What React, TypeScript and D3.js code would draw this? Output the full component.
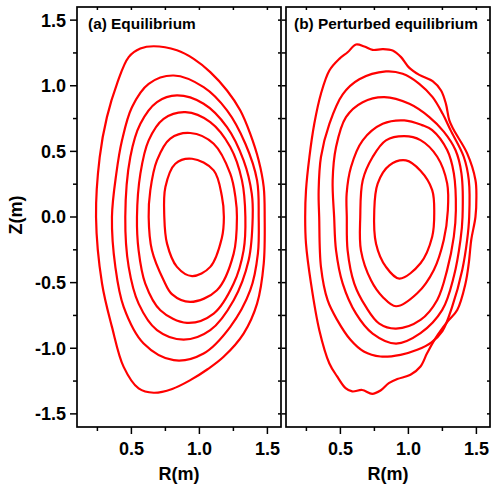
import React from 'react';
import * as d3 from 'd3';

type Pt = [number, number];

const xDomain: [number, number] = [0.1, 1.6];
const yDomain: [number, number] = [-1.6, 1.6];
const xTicksMajor = [0.5, 1.0, 1.5];
const xTicksMinor = [0.25, 0.75, 1.25];
const yTicksMajor = [-1.5, -1.0, -0.5, 0.0, 0.5, 1.0, 1.5];
const yTicksMinor = [-1.25, -0.75, -0.25, 0.25, 0.75, 1.25];
const topTicks = [0.25, 0.5, 0.75, 1.0, 1.25, 1.5];
const rightTicks = [-1.5, -1.25, -1.0, -0.75, -0.5, -0.25, 0, 0.25, 0.5, 0.75, 1.0, 1.25, 1.5];

const panelTitles = ['(a) Equilibrium', '(b) Perturbed equilibrium'];
const xAxisTitle = 'R(m)';
const yAxisTitle = 'Z(m)';

// (a) Equilibrium flux surfaces, [R, Z]
const eq1: Pt[] = [[0.664,1.301],[0.566,1.283],[0.48,1.218],[0.394,1.015],[0.32,0.761],[0.267,0.457],[0.24,0],[0.284,-0.507],[0.357,-0.837],[0.443,-1.142],[0.553,-1.306],[0.664,-1.339],[0.80,-1.31],[0.933,-1.243],[1.06,-1.16],[1.178,-1.065],[1.325,-0.888],[1.424,-0.66],[1.473,-0.355],[1.48,0],[1.473,0.228],[1.436,0.431],[1.374,0.634],[1.301,0.812],[1.203,0.964],[1.08,1.104],[0.958,1.205],[0.835,1.27]];
const eq2: Pt[] = [[0.811,1.078],[0.627,1.015],[0.504,0.837],[0.431,0.584],[0.389,0.33],[0.357,0],[0.382,-0.38],[0.443,-0.685],[0.59,-0.964],[0.811,-1.091],[1.031,-1.04],[1.227,-0.837],[1.374,-0.558],[1.43,-0.279],[1.436,0],[1.424,0.279],[1.338,0.558],[1.203,0.812],[1.031,0.989]];
const eq3: Pt[] = [[0.835,0.926],[0.688,0.875],[0.566,0.71],[0.492,0.457],[0.455,0],[0.48,-0.38],[0.553,-0.66],[0.688,-0.862],[0.884,-0.934],[1.08,-0.862],[1.252,-0.634],[1.362,-0.33],[1.392,0],[1.385,0.178],[1.325,0.431],[1.203,0.685],[1.031,0.863]];
const eq4: Pt[] = [[0.897,0.799],[0.737,0.748],[0.627,0.584],[0.566,0.33],[0.541,0],[0.553,-0.254],[0.602,-0.507],[0.713,-0.71],[0.909,-0.807],[1.105,-0.736],[1.252,-0.507],[1.325,-0.254],[1.338,0],[1.313,0.279],[1.227,0.533],[1.08,0.723]];
const eq5: Pt[] = [[0.933,0.64],[0.786,0.597],[0.688,0.431],[0.639,0.203],[0.627,0],[0.651,-0.254],[0.737,-0.482],[0.80,-0.59],[0.933,-0.647],[1.129,-0.558],[1.252,-0.279],[1.276,0],[1.265,0.15],[1.227,0.33],[1.105,0.558]];
const eq6: Pt[] = [[0.946,0.444],[0.823,0.406],[0.75,0.228],[0.742,0],[0.762,-0.203],[0.835,-0.38],[0.946,-0.45],[1.08,-0.38],[1.165,-0.16],[1.18,0],[1.165,0.16],[1.105,0.355]];

// (b) Perturbed equilibrium flux surfaces, [R, Z]
const pe1: Pt[] = [[0.615,1.314],[0.553,1.255],[0.492,1.205],[0.419,1.116],[0.357,0.939],[0.308,0.71],[0.272,0.457],[0.247,0.203],[0.241,0],[0.247,-0.203],[0.284,-0.507],[0.345,-0.862],[0.419,-1.116],[0.476,-1.215],[0.538,-1.304],[0.587,-1.329],[0.66,-1.318],[0.734,-1.347],[0.795,-1.322],[0.856,-1.266],[0.918,-1.235],[1.015,-1.202],[1.089,-1.139],[1.138,-1.037],[1.20,-0.923],[1.285,-0.80],[1.359,-0.708],[1.42,-0.505],[1.444,-0.352],[1.462,-0.175],[1.493,0],[1.50,0.155],[1.493,0.282],[1.432,0.485],[1.334,0.662],[1.301,0.736],[1.276,0.862],[1.24,0.964],[1.178,1.035],[1.08,1.083],[1.007,1.136],[0.946,1.218],[0.884,1.268],[0.811,1.279],[0.737,1.273],[0.676,1.299]];
const pe2: Pt[] = [[0.835,1.109],[0.639,1.049],[0.517,0.934],[0.419,0.71],[0.357,0.457],[0.34,0.2],[0.344,0],[0.357,-0.38],[0.406,-0.634],[0.476,-0.784],[0.574,-0.936],[0.672,-1.025],[0.795,-1.063],[0.942,-1.05],[1.065,-1.012],[1.17,-0.955],[1.25,-0.87],[1.322,-0.683],[1.396,-0.403],[1.432,-0.175],[1.447,0],[1.444,0.282],[1.407,0.459],[1.31,0.662],[1.252,0.786],[1.178,0.913],[1.08,1.015],[0.958,1.091]];
const pe3: Pt[] = [[0.823,0.913],[0.664,0.875],[0.541,0.761],[0.468,0.533],[0.443,0.279],[0.454,0],[0.468,-0.254],[0.517,-0.507],[0.615,-0.736],[0.737,-0.888],[0.909,-0.964],[1.089,-0.885],[1.249,-0.708],[1.334,-0.454],[1.383,-0.175],[1.398,0],[1.39,0.333],[1.346,0.51],[1.26,0.65],[1.154,0.761],[1.007,0.862]];
const pe4: Pt[] = [[0.97,0.736],[0.811,0.71],[0.664,0.584],[0.578,0.381],[0.546,0.178],[0.547,0],[0.553,-0.254],[0.602,-0.507],[0.688,-0.685],[0.786,-0.812],[0.909,-0.85],[1.089,-0.784],[1.212,-0.632],[1.285,-0.403],[1.334,-0.15],[1.349,0.05],[1.334,0.333],[1.285,0.51],[1.175,0.662],[1.10,0.70]];
const pe5: Pt[] = [[0.97,0.616],[0.835,0.584],[0.737,0.457],[0.664,0.279],[0.646,0],[0.651,-0.254],[0.725,-0.482],[0.811,-0.609],[0.909,-0.68],[1.065,-0.581],[1.187,-0.403],[1.26,-0.175],[1.29,0.05],[1.285,0.256],[1.212,0.459],[1.089,0.586]];
const pe6: Pt[] = [[0.982,0.431],[0.86,0.393],[0.774,0.254],[0.749,0.05],[0.762,-0.203],[0.835,-0.38],[0.933,-0.469],[1.089,-0.352],[1.175,-0.15],[1.19,0.03],[1.175,0.205],[1.089,0.352]];

const equilibrium = [eq1, eq2, eq3, eq4, eq5, eq6];
const perturbed = [pe1, pe2, pe3, pe4, pe5, pe6];

const W = 492;
const H = 485;
const panelY0 = 7;
const panelY1 = 427;
const panels = [
  { x0: 77, x1: 281, data: equilibrium, title: panelTitles[0], showY: true, titleX: 88, titleY: 29 },
  { x0: 286, x1: 490, data: perturbed, title: panelTitles[1], showY: false, titleX: 294, titleY: 28.5 },
];

const FONT = "'Liberation Sans', Arial, Helvetica, sans-serif";
const fmt = (v: number) => v.toFixed(1);

function Panel({ p, idx }: { p: typeof panels[number]; idx: number }) {
  const x = d3.scaleLinear().domain(xDomain).range([p.x0, p.x1]);
  const y = d3.scaleLinear().domain(yDomain).range([panelY1, panelY0]);
  const line = d3
    .line<Pt>()
    .x((d) => x(d[0]))
    .y((d) => y(d[1]))
    .curve(d3.curveCatmullRomClosed.alpha(0.5));
  const clipId = `clip${idx}`;
  const tk = 1.5;
  return (
    <g>
      <defs>
        <clipPath id={clipId}>
          <rect x={p.x0} y={panelY0} width={p.x1 - p.x0} height={panelY1 - panelY0} />
        </clipPath>
      </defs>
      <g clipPath={`url(#${clipId})`}>
        {p.data.map((c, i) => (
          <path key={i} d={line(c) || ''} fill="none" stroke="#ff0000" strokeWidth={2.2} strokeLinejoin="round" />
        ))}
      </g>
      {xTicksMajor.map((t) => (
        <line key={'xb' + t} x1={x(t)} x2={x(t)} y1={panelY1} y2={panelY1 + 7} stroke="#000" strokeWidth={tk} />
      ))}
      {xTicksMinor.map((t) => (
        <line key={'xm' + t} x1={x(t)} x2={x(t)} y1={panelY1} y2={panelY1 + 4} stroke="#000" strokeWidth={tk} />
      ))}
      {topTicks.map((t) => (
        <line key={'xt' + t} x1={x(t)} x2={x(t)} y1={panelY0} y2={panelY0 + 3} stroke="#000" strokeWidth={tk} />
      ))}
      {yTicksMajor.map((t) => (
        <line key={'yl' + t} x1={p.x0 - (p.showY ? 7 : 4)} x2={p.x0} y1={y(t)} y2={y(t)} stroke="#000" strokeWidth={tk} />
      ))}
      {yTicksMinor.map((t) => (
        <line key={'ym' + t} x1={p.x0 - 4} x2={p.x0} y1={y(t)} y2={y(t)} stroke="#000" strokeWidth={tk} />
      ))}
      {rightTicks.map((t) => (
        <line key={'yr' + t} x1={p.x1 - 3} x2={p.x1} y1={y(t)} y2={y(t)} stroke="#000" strokeWidth={tk} />
      ))}
      <rect x={p.x0} y={panelY0} width={p.x1 - p.x0} height={panelY1 - panelY0} fill="none" stroke="#000" strokeWidth={1.7} />
      {xTicksMajor.map((t) => (
        <text key={'xl' + t} x={x(t)} y={455} textAnchor="middle" fontFamily={FONT} fontWeight="bold" fontSize={18} fill="#000">
          {fmt(t)}
        </text>
      ))}
      {p.showY &&
        yTicksMajor.map((t) => (
          <text key={'ylab' + t} x={p.x0 - 11} y={y(t) + 6.4} textAnchor="end" fontFamily={FONT} fontWeight="bold" fontSize={18} fill="#000">
            {fmt(t)}
          </text>
        ))}
      <text x={(p.x0 + p.x1) / 2} y={480} textAnchor="middle" fontFamily={FONT} fontWeight="bold" fontSize={18} fill="#000">
        {xAxisTitle}
      </text>
      <text x={p.titleX} y={p.titleY} fontFamily={FONT} fontWeight="bold" fontSize={15.4} fill="#000">
        {p.title}
      </text>
    </g>
  );
}

export default function App() {
  return (
    <svg
      width={W}
      height={H}
      viewBox={`0 0 ${W} ${H}`}
      style={{ position: 'absolute', left: 0, top: 0, background: '#fff' }}
    >
      <rect x={0} y={0} width={W} height={H} fill="#fff" />
      {panels.map((p, i) => (
        <Panel key={i} p={p} idx={i} />
      ))}
      <text
        transform={`translate(21.5,215) rotate(-90)`}
        textAnchor="middle"
        fontFamily={FONT}
        fontWeight="bold"
        fontSize={18}
        fill="#000"
      >
        {yAxisTitle}
      </text>
    </svg>
  );
}
